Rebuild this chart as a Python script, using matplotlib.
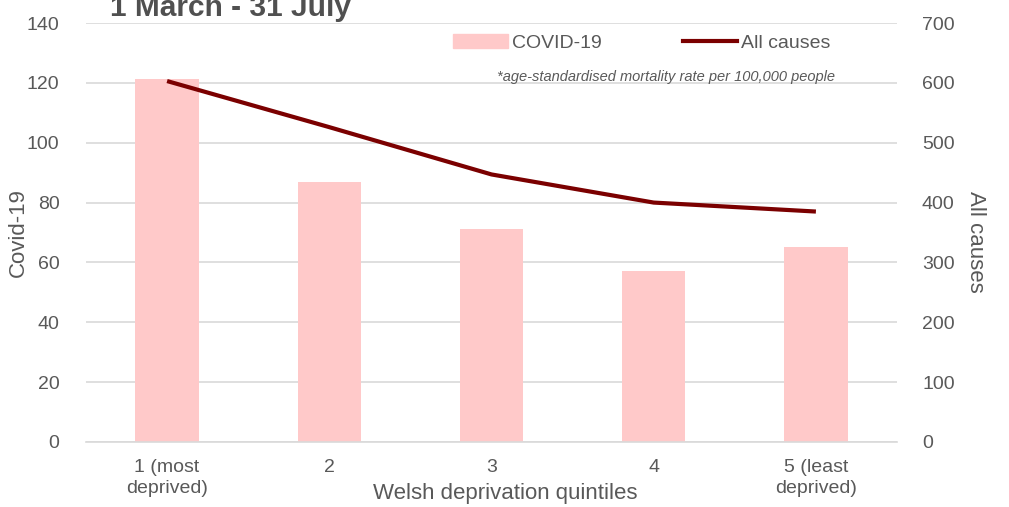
import matplotlib.pyplot as plt
from matplotlib.patches import Patch
from matplotlib.lines import Line2D

plt.rcParams['font.family'] = ['Liberation Sans', 'DejaVu Sans']

quintiles = ['1 (most\ndeprived)', '2', '3', '4', '5 (least\ndeprived)']
covid_rate = [121.3, 87.0, 71.3, 57.3, 65.3]
all_causes_rate = [603, 526, 447, 400, 385]

grey = '#595959'
bar_col = '#ffc9c9'
line_col = '#7b0000'

fig = plt.figure(figsize=(10.09, 5.07), dpi=100)
ax = fig.add_axes([86 / 1009, 1 - 442 / 507, 811 / 1009, 419 / 507])
ax2 = ax.twinx()

x = list(range(len(quintiles)))
ax.bar(x, covid_rate, width=0.39, color=bar_col, zorder=2)
ax2.plot(x, all_causes_rate, color=line_col, lw=3.0, solid_capstyle='butt', zorder=3)

ax.set_xlim(-0.5, 4.5)
ax.set_ylim(0, 140)
ax2.set_ylim(0, 700)
ax.set_yticks(range(0, 141, 20))
ax2.set_yticks(range(0, 701, 100))
ax.set_xticks(x)
ax.set_xticklabels(quintiles, linespacing=1.35)
ax.yaxis.grid(True, color='#d9d9d9', lw=1.2)
ax.set_axisbelow(True)

for a in (ax, ax2):
    for s in a.spines.values():
        s.set_visible(False)
    a.tick_params(colors=grey, labelsize=14, length=0)
ax.tick_params(axis='y', pad=19)
ax.tick_params(axis='x', pad=12)
ax2.tick_params(axis='y', pad=18)
ax.spines['bottom'].set_visible(True)
ax.spines['bottom'].set_color('#d9d9d9')
ax.spines['bottom'].set_linewidth(1.2)

ax.set_ylabel('Covid-19', color=grey, fontsize=16, va='center')
ax.yaxis.set_label_coords((18 - 86) / 811, 0.5)
ax2.set_ylabel('All causes', color=grey, fontsize=16, rotation=-90, va='center')
ax2.yaxis.set_label_coords((975 - 86) / 811, 0.477)
ax.set_xlabel('Welsh deprivation quintiles', color=grey, fontsize=16, va='center')
ax.xaxis.set_label_coords((505 - 86) / 811, (442 - 493) / 419)

handles = [Patch(color=bar_col), Line2D([0], [0], color=line_col, lw=3.0)]
fig.legend(handles, ['COVID-19', 'All causes'], loc='center', bbox_to_anchor=(642 / 1009, 1 - 43 / 507),
           ncol=2, frameon=False, fontsize=14, labelcolor=grey, handlelength=2.8,
           handletextpad=0.2, columnspacing=4.2)

fig.text(497 / 1009, 1 - 77 / 507, '*age-standardised mortality rate per 100,000 people',
         fontsize=10.5, style='italic', color=grey, va='center')
fig.text(110 / 1009, 1 - 8 / 507, '1 March - 31 July', fontsize=21.5, fontweight='bold',
         color='#505050', va='center')

fig.savefig('out.png', dpi=100)
